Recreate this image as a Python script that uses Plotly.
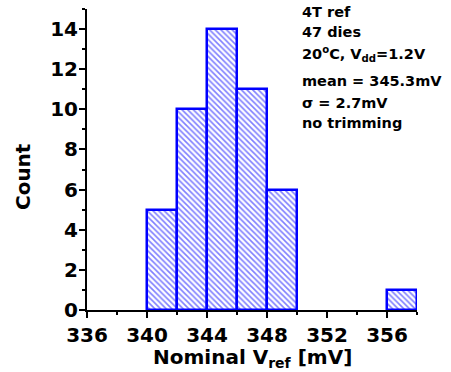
import plotly.graph_objects as go

# Data: histogram bins (left edges, mV) and counts
bin_left = [340, 342, 344, 346, 348, 356]
counts = [5, 10, 14, 11, 6, 1]
bin_width = 2

x_ticks = [336, 340, 344, 348, 352, 356]
y_ticks = [0, 2, 4, 6, 8, 10, 12, 14]

info_lines = [
    "4T ref",
    "47 dies",
    "20<sup>o</sup>C, V<sub>dd</sub>=1.2V",
    "mean = 345.3mV",
    "σ = 2.7mV",
    "no trimming",
]
info_y = [0.990, 0.924, 0.852, 0.761, 0.688, 0.621]

BLUE = "#0000ff"
TICKFONT = dict(family="DejaVu Sans", size=20, color="black", weight="bold")

centers = [b + bin_width / 2 for b in bin_left]

fig = go.Figure()
fig.add_trace(go.Bar(
    x=centers, y=counts, width=[bin_width] * len(counts),
    marker=dict(
        color="white",
        line=dict(color=BLUE, width=2.5),
        pattern=dict(shape="\\", fgcolor=BLUE, bgcolor="white", size=4, solidity=0.4),
    ),
    showlegend=False,
))

fig.update_layout(
    width=451, height=372,
    margin=dict(l=87, r=34, t=9, b=62),
    paper_bgcolor="white", plot_bgcolor="white",
    bargap=0,
    xaxis=dict(
        range=[336, 358], tickvals=x_ticks, ticktext=[str(v) for v in x_ticks],
        showgrid=False, zeroline=False, showline=True, linecolor="black", linewidth=2,
        ticks="outside", ticklen=6, tickwidth=2, tickcolor="black",
        minor=dict(dtick=2, ticks="outside", ticklen=3, tickwidth=2, tickcolor="black"),
        tickfont=TICKFONT,
    ),
    yaxis=dict(
        range=[0, 15], tickvals=y_ticks, ticktext=[str(v) for v in y_ticks],
        showgrid=False, zeroline=False, showline=True, linecolor="black", linewidth=2,
        ticks="outside", ticklen=6, tickwidth=2, tickcolor="black",
        minor=dict(dtick=1, ticks="outside", ticklen=3, tickwidth=2, tickcolor="black"),
        tickfont=TICKFONT, ticklabelstandoff=-3,
    ),
)

for txt, yy in zip(info_lines, info_y):
    fig.add_annotation(
        text=txt, xref="paper", yref="paper", x=0.645, y=yy,
        xanchor="left", yanchor="middle", showarrow=False,
        font=dict(family="DejaVu Sans", size=14.5, color="black", weight="bold"),
    )

fig.add_annotation(
    text="Count", xref="paper", yref="paper", x=-0.194, y=0.445,
    xanchor="center", yanchor="middle", textangle=-90, showarrow=False,
    font=dict(family="DejaVu Sans", size=20, color="black", weight="bold"),
)
fig.add_annotation(
    text="Nominal V<sub>ref</sub> [mV]", xref="paper", yref="paper", x=0.5, y=-0.16,
    xanchor="center", yanchor="middle", showarrow=False,
    font=dict(family="DejaVu Sans", size=20, color="black", weight="bold"),
)

fig.write_html("out.html")
